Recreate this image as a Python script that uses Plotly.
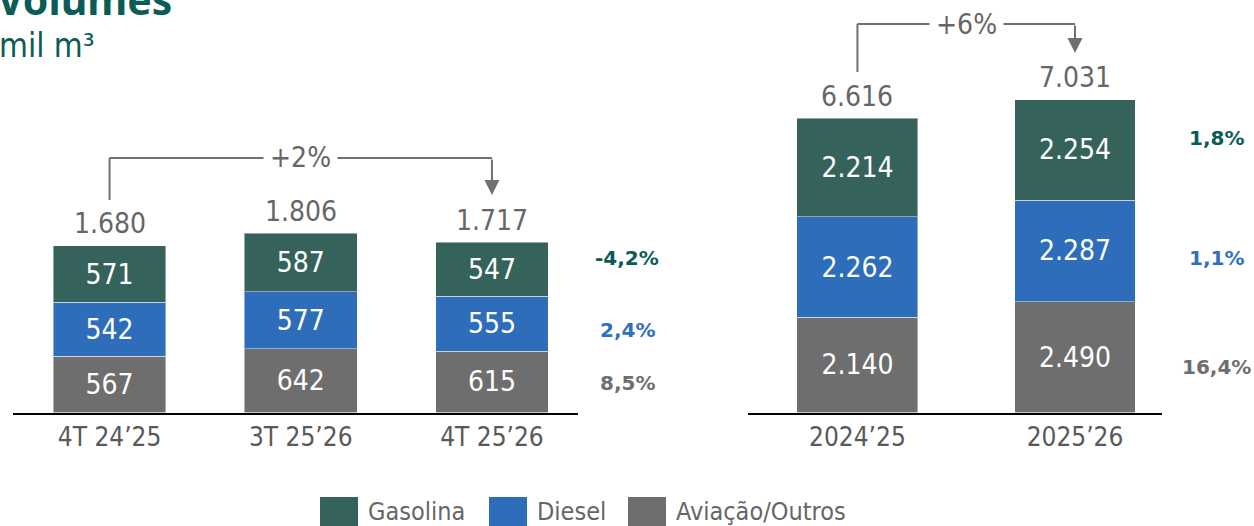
import plotly.graph_objects as go

# ---------------- data ----------------
quarters = ["4T 24’25", "3T 25’26", "4T 25’26"]
years = ["2024’25", "2025’26"]

series_names = ["Aviação/Outros", "Diesel", "Gasolina"]
series_colors = ["#6E6E6E", "#2E6DB9", "#35635B"]

q_aviacao = [567, 642, 615]
q_diesel = [542, 577, 555]
q_gasolina = [571, 587, 547]
q_totals = [1680, 1806, 1717]

y_aviacao = [2140, 2490]
y_diesel = [2262, 2287]
y_gasolina = [2214, 2254]
y_totals = [6616, 7031]

q_growth = ["8,5%", "2,4%", "-4,2%"]   # aviação, diesel, gasolina
y_growth = ["16,4%", "1,1%", "1,8%"]
growth_colors = ["#6E6E6E", "#3070C0", "#0B5C57"]

q_change = "+2%"
y_change = "+6%"

legend_order = ["Gasolina", "Diesel", "Aviação/Outros"]

# ---------------- layout helpers ----------------
W, H = 1254, 526
FONT = "DejaVu Sans Condensed, Noto Sans, sans-serif"
BOLD = "DejaVu Sans, sans-serif"
GRAY_TXT = "#666666"
TEAL = "#0B5C57"


def px(x):
    return x / W


def py(y):
    return 1 - y / H


fig = go.Figure()

q_series = [q_aviacao, q_diesel, q_gasolina]
y_series = [y_aviacao, y_diesel, y_gasolina]

for name, color, vals in zip(series_names, series_colors, q_series):
    fig.add_trace(go.Bar(
        x=quarters, y=vals, name=name, marker_color=color,
        marker_line=dict(color="rgba(255,255,255,0.45)", width=1),
        width=0.59, text=[f"{v:,}".replace(",", ".") for v in vals],
        textposition="inside", insidetextanchor="middle", textangle=0,
        textfont=dict(color="white", size=28, family=FONT),
        xaxis="x", yaxis="y", showlegend=False, hoverinfo="skip"))

for name, color, vals in zip(series_names, series_colors, y_series):
    fig.add_trace(go.Bar(
        x=years, y=vals, name=name, marker_color=color,
        marker_line=dict(color="rgba(255,255,255,0.45)", width=1),
        width=0.556, text=[f"{v:,}".replace(",", ".") for v in vals],
        textposition="inside", insidetextanchor="middle", textangle=0,
        textfont=dict(color="white", size=28, family=FONT),
        xaxis="x2", yaxis="y2", showlegend=False, hoverinfo="skip"))

annotations = []
shapes = []

# totals above the bars
for cat, tot in zip(quarters, q_totals):
    annotations.append(dict(x=cat, y=tot, xref="x", yref="y", yanchor="middle",
                            yshift=22, showarrow=False,
                            text=f"{tot:,}".replace(",", "."),
                            font=dict(size=28, color=GRAY_TXT, family=FONT)))
for cat, tot in zip(years, y_totals):
    annotations.append(dict(x=cat, y=tot, xref="x2", yref="y2", yanchor="middle",
                            yshift=22, showarrow=False,
                            text=f"{tot:,}".replace(",", "."),
                            font=dict(size=28, color=GRAY_TXT, family=FONT)))

# growth percentages
q_growth_y = [383, 330, 258]
y_growth_y = [367, 258, 138]
for txt, col, yy in zip(q_growth, growth_colors, q_growth_y):
    annotations.append(dict(x=px(627), y=py(yy), xref="paper", yref="paper",
                            xanchor="center", yanchor="middle",
                            showarrow=False, text=f"<b>{txt}</b>",
                            font=dict(size=20, color=col, family=BOLD)))
for txt, col, yy in zip(y_growth, growth_colors, y_growth_y):
    annotations.append(dict(x=px(1216), y=py(yy), xref="paper", yref="paper",
                            xanchor="center", yanchor="middle",
                            showarrow=False, text=f"<b>{txt}</b>",
                            font=dict(size=20, color=col, family=BOLD)))

# change brackets
LINE_C = "#707070"


def bracket(xref, yref, x0, x1, xmid, y_top, y_left_bottom, y_tip, label):
    shapes.append(dict(type="line", xref=xref, yref=yref, x0=x0, x1=x0,
                       y0=y_left_bottom, y1=y_top, line=dict(color=LINE_C, width=2)))
    shapes.append(dict(type="line", xref=xref, yref=yref, x0=x0, x1=x1,
                       y0=y_top, y1=y_top, line=dict(color=LINE_C, width=2)))
    annotations.append(dict(x=x1, y=y_tip, ax=x1, ay=y_top, xref=xref, yref=yref,
                            axref=xref, ayref=yref, text="", showarrow=True,
                            arrowhead=2, arrowsize=1.5, arrowwidth=2,
                            arrowcolor=LINE_C))
    annotations.append(dict(x=xmid, y=y_top, xref=xref, yref=yref, showarrow=False,
                            text=label, bgcolor="white", borderpad=6,
                            font=dict(size=28, color=GRAY_TXT, family=FONT)))


bracket("x", "y", 0, 2, 1, 2566, 2142, 2192, q_change)
bracket("x2", "y2", 0, 1, 0.5, 8736, 7657, 8084, y_change)

# title
annotations.append(dict(x=px(174), y=py(-1), xref="paper", yref="paper",
                        xanchor="right", yanchor="middle", showarrow=False,
                        text="<b>Volumes</b>",
                        font=dict(size=41, color=TEAL, family="Noto Sans")))
annotations.append(dict(x=px(-3), y=py(45), xref="paper", yref="paper",
                        xanchor="left", yanchor="middle", showarrow=False,
                        text="mil m³",
                        font=dict(size=33, color=TEAL, family=FONT)))

# custom legend (large squares)
legend_x = [320, 489, 628]
color_of = dict(zip(series_names, series_colors))
for name, lx in zip(legend_order, legend_x):
    shapes.append(dict(type="rect", xref="paper", yref="paper",
                       x0=px(lx), x1=px(lx + 38), y0=py(535), y1=py(497),
                       fillcolor=color_of[name], line=dict(width=0)))
    annotations.append(dict(x=px(lx + 46), y=py(511), xref="paper", yref="paper",
                            xanchor="left", yanchor="middle", showarrow=False,
                            text=name, font=dict(size=25, color=GRAY_TXT, family=FONT)))

ydom = [py(412.5), 1]
axis_common = dict(showline=True, linecolor="black", linewidth=2, ticks="",
                   showgrid=False, zeroline=False, fixedrange=True,
                   tickfont=dict(size=26, color="#595959", family=FONT))

fig.update_layout(
    width=W, height=H, autosize=False,
    margin=dict(l=0, r=0, t=0, b=0),
    paper_bgcolor="white", plot_bgcolor="white",
    barmode="stack", showlegend=False,
    separators=",.",
    xaxis=dict(domain=[px(13), px(578)], range=[-0.505, 2.45], type="category",
               anchor="y", **axis_common),
    yaxis=dict(domain=ydom, range=[0, 412.5 / 0.0992], visible=False, fixedrange=True),
    xaxis2=dict(domain=[px(748), px(1162)], range=[-0.503, 1.4], type="category",
                anchor="y2", **axis_common),
    yaxis2=dict(domain=ydom, range=[0, 412.5 / 0.04447], visible=False,
                fixedrange=True, anchor="x2"),
    annotations=annotations, shapes=shapes,
)

fig.write_html("out.html", config={"displayModeBar": False},
               post_script="document.body.style.margin='0';"
                           "document.body.style.overflow='hidden';")
